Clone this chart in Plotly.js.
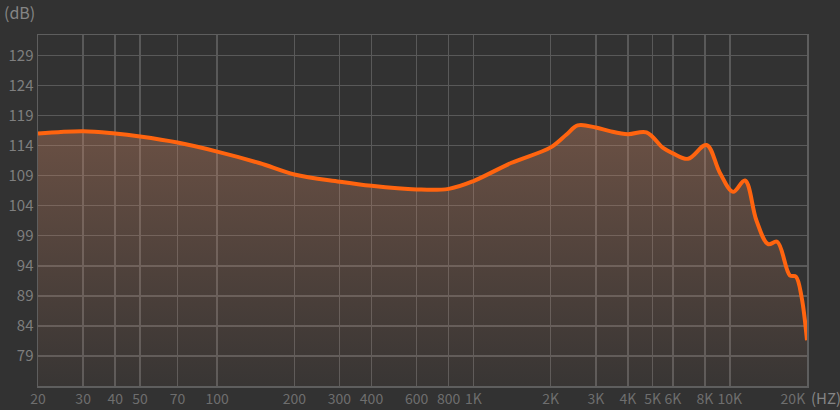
<!DOCTYPE html>
<html>
<head>
<meta charset="utf-8">
<script src="https://cdn.plot.ly/plotly-3.0.1.min.js"></script>
<style>
html,body{margin:0;padding:0;background:#323232;}
#chart{width:840px;height:410px;}
</style>
</head>
<body>
<div id="chart"></div>
<script>
// Frequency (Hz) of each reading
const freqHz = [20, 30, 40, 50, 70, 100, 146, 200, 300, 400, 600, 800, 1000, 1400, 2000, 2300, 2550, 3000, 3400, 4000, 4730, 5490, 6000, 6870, 8110, 9140, 10300, 11450, 12710, 14100, 15300, 17150, 18100, 19050, 20000];
// Level (dB) of each reading
const levelDb = [116.0, 116.4, 116.0, 115.5, 114.5, 113.0, 111.1, 109.2, 108.0, 107.3, 106.7, 106.8, 108.1, 111.1, 113.7, 115.8, 117.35, 117.0, 116.4, 115.9, 116.2, 113.6, 112.7, 111.8, 114.1, 109.5, 106.3, 108.2, 101.5, 97.6, 98.0, 92.4, 92.2, 88.8, 81.6];

// Axis ticks
const xTickVals = [20, 30, 40, 50, 70, 100, 200, 300, 400, 600, 800, 1000, 2000, 3000, 4000, 5000, 6000, 8000, 10000, 20000];
const xTickText = ["20", "30", "40", "50", "70", "100", "200", "300", "400", "600", "800", "1K", "2K", "3K", "4K", "5K", "6K", "8K", "10K", "20K\u00a0\u00a0\u00a0\u00a0\u00a0\u00a0\u00a0\u00a0\u00a0"];
const yTickVals = [79, 84, 89, 94, 99, 104, 109, 114, 119, 124, 129];
const yTickText = ["79", "84", "89", "94", "99", "104", "109", "114", "119", "124", "129"];

const FONT = '"Noto Sans CJK SC", "Noto Sans", sans-serif';

const trace = {
  x: freqHz,
  y: levelDb,
  type: 'scatter',
  mode: 'lines',
  line: {color: '#ff640f', width: 4, shape: 'spline', smoothing: 1},
  fill: 'tozeroy',
  fillgradient: {
    type: 'vertical',
    start: 74,
    stop: 118,
    colorscale: [[0, 'rgba(210,136,101,0.04)'], [1, 'rgba(210,136,101,0.36)']]
  },
  hoverinfo: 'skip'
};

const layout = {
  width: 840,
  height: 410,
  margin: {l: 38, r: 33, t: 35, b: 24},
  paper_bgcolor: '#323232',
  plot_bgcolor: '#323232',
  showlegend: false,
  font: {family: FONT, color: '#787878', size: 15},
  xaxis: {
    type: 'log',
    range: [Math.log10(20), Math.log10(20000)],
    tickvals: xTickVals,
    ticktext: xTickText,
    tickangle: 0,
    tickfont: {family: FONT, size: 14, color: '#6e6e6e'},
    showgrid: true,
    gridcolor: '#595959',
    gridwidth: 1.5,
    showline: true,
    linecolor: '#5e5e5e',
    linewidth: 1.5,
    mirror: true,
    ticks: '',
    zeroline: false,
    automargin: false,
    fixedrange: true
  },
  yaxis: {
    range: [74, 132.4],
    tickvals: yTickVals,
    ticktext: yTickText,
    tickfont: {family: FONT, size: 15, color: '#7e7e7e'},
    showgrid: true,
    gridcolor: '#595959',
    gridwidth: 1.5,
    showline: true,
    linecolor: '#5e5e5e',
    linewidth: 1.5,
    mirror: true,
    ticks: '',
    zeroline: false,
    automargin: false,
    fixedrange: true
  },
  annotations: [
    {text: '(dB)', xref: 'paper', yref: 'paper', x: -0.047, y: 1.065, xanchor: 'left', yanchor: 'middle', showarrow: false, font: {family: FONT, size: 16, color: '#858585'}},
    {text: '(HZ)', xref: 'paper', yref: 'paper', x: 1.003, y: -0.032, xanchor: 'left', yanchor: 'middle', showarrow: false, font: {family: FONT, size: 15, color: '#858585'}}
  ]
};

Plotly.newPlot('chart', [trace], layout, {staticPlot: true, displayModeBar: false});
</script>
</body>
</html>
